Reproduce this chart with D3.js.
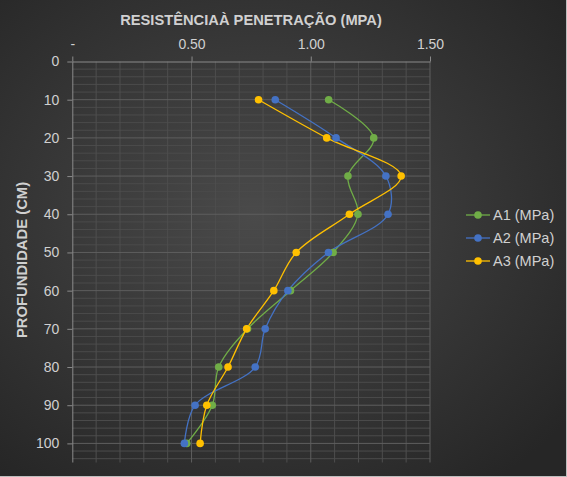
<!DOCTYPE html>
<html>
<head>
<meta charset="utf-8">
<script src="https://cdn.jsdelivr.net/npm/d3@7"></script>
<style>
  body { margin: 0; background: #2b2b2b; }
  svg { display: block; font-family: "Liberation Sans", Arial, sans-serif; }
</style>
</head>
<body>
<div id="chart"></div>
<script>
// profundidade (cm)
var depths = [10, 20, 30, 40, 50, 60, 70, 80, 90, 100];
var seriesNames = ["A1 (MPa)", "A2 (MPa)", "A3 (MPa)"];
var a1 = [1.075, 1.264, 1.156, 1.198, 1.094, 0.915, 0.735, 0.614, 0.587, 0.480];
var a2 = [0.851, 1.106, 1.315, 1.324, 1.074, 0.904, 0.809, 0.767, 0.515, 0.470];
var a3 = [0.781, 1.067, 1.379, 1.162, 0.939, 0.845, 0.731, 0.653, 0.564, 0.536];
var xTicks = [0, 0.5, 1.0, 1.5];
var yTicks = [0, 10, 20, 30, 40, 50, 60, 70, 80, 90, 100];
var colors = ["#70ad47", "#4472c4", "#ffc000"];

var W = 567, H = 477;
var pLeft = 72.3, pRight = 430, pTop = 61.5, pBottom = 462.5;

var svg = d3.select("#chart").append("svg").attr("width", W).attr("height", H);

var defs = svg.append("defs");
var grad = defs.append("radialGradient").attr("id", "bg")
  .attr("cx", "45%").attr("cy", "45%").attr("r", "70%");
grad.append("stop").attr("offset", "0%").attr("stop-color", "#4a4a4a");
grad.append("stop").attr("offset", "100%").attr("stop-color", "#262626");
svg.append("rect").attr("width", W).attr("height", H).attr("fill", "url(#bg)");

// borda
svg.append("line").attr("x1", 0).attr("x2", W).attr("y1", H - 0.5).attr("y2", H - 0.5).attr("stroke", "#bdbdbd");
svg.append("line").attr("x1", W - 0.5).attr("x2", W - 0.5).attr("y1", 0).attr("y2", H).attr("stroke", "#bdbdbd");

var x = d3.scaleLinear().domain([0, 1.5]).range([pLeft, pRight]);
var y = d3.scaleLinear().domain([0, 105]).range([pTop, pBottom]);

// grade menor
var g = svg.append("g");
g.selectAll("line.hmin").data(d3.range(2, 105, 2).filter(function(d){ return d % 10 != 0; }))
  .enter().append("line")
  .attr("x1", pLeft).attr("x2", pRight)
  .attr("y1", function(d){ return y(d); }).attr("y2", function(d){ return y(d); })
  .attr("stroke", "#4b4b4b").attr("stroke-width", 1);
g.selectAll("line.vmin").data(d3.range(1, 15).filter(function(d){ return d % 5 != 0; }))
  .enter().append("line")
  .attr("y1", pTop).attr("y2", pBottom)
  .attr("x1", function(d){ return x(d / 10); }).attr("x2", function(d){ return x(d / 10); })
  .attr("stroke", "#4e4e4e").attr("stroke-width", 1);
// grade maior
g.selectAll("line.hmaj").data(yTicks.slice(1))
  .enter().append("line")
  .attr("x1", pLeft).attr("x2", pRight)
  .attr("y1", function(d){ return y(d); }).attr("y2", function(d){ return y(d); })
  .attr("stroke", "#5e5e5e").attr("stroke-width", 1);
g.selectAll("line.vmaj").data(xTicks.slice(1))
  .enter().append("line")
  .attr("y1", pTop).attr("y2", pBottom)
  .attr("x1", function(d){ return x(d); }).attr("x2", function(d){ return x(d); })
  .attr("stroke", "#5e5e5e").attr("stroke-width", 1);

// eixos
var xAxis = d3.axisTop(x).tickValues(xTicks).tickSizeInner(5).tickSizeOuter(0).tickPadding(8)
  .tickFormat(function(d){ return d == 0 ? "-" : d.toFixed(2); });
var gx = svg.append("g").attr("transform", "translate(0," + pTop + ")").call(xAxis);
var yAxis = d3.axisLeft(y).tickValues(yTicks).tickSizeInner(5).tickSizeOuter(0).tickPadding(8);
var gy = svg.append("g").attr("transform", "translate(" + pLeft + ",0)").call(yAxis);
[gx, gy].forEach(function(a){
  a.select(".domain").attr("stroke", "#8a8a8a");
  a.selectAll(".tick line").attr("stroke", "#8a8a8a");
  a.selectAll(".tick text").attr("fill", "#d0d0d0").style("font-size", "14px").attr("font-family", null);
});
gy.select(".domain").attr("d", "M0.5," + pTop + "V" + pBottom);

// títulos
svg.append("text").attr("x", 251).attr("y", 25).attr("text-anchor", "middle")
  .attr("fill", "#d0d0d0").style("font-size", "14.7px").style("font-weight", "bold")
  .text("RESISTÊNCIAÀ PENETRAÇÃO (MPA)");
svg.append("text").attr("transform", "translate(27,260) rotate(-90)").attr("text-anchor", "middle")
  .attr("fill", "#d0d0d0").style("font-size", "14.8px").style("font-weight", "bold")
  .text("PROFUNDIDADE (CM)");

// séries
var series = [a1, a2, a3].map(function(vals, i){
  return { name: seriesNames[i], color: colors[i], pts: vals.map(function(v, k){ return [v, depths[k]]; }) };
});
var line = d3.line().x(function(d){ return x(d[0]); }).y(function(d){ return y(d[1]); })
  .curve(d3.curveCatmullRom.alpha(0.5));
series.forEach(function(s){
  svg.append("path").attr("d", line(s.pts)).attr("fill", "none")
    .attr("stroke", s.color).attr("stroke-width", 1.3);
});
series.forEach(function(s){
  svg.append("g").selectAll("circle").data(s.pts).enter().append("circle")
    .attr("cx", function(d){ return x(d[0]); }).attr("cy", function(d){ return y(d[1]); })
    .attr("r", 3.8).attr("fill", s.color);
});

// legenda
var lg = svg.append("g").selectAll("g").data(series).enter().append("g")
  .attr("transform", function(d, i){ return "translate(466," + (215 + i * 23) + ")"; });
lg.append("line").attr("x1", 0).attr("x2", 24).attr("stroke", function(d){ return d.color; }).attr("stroke-width", 1.3);
lg.append("circle").attr("cx", 12).attr("r", 3.8).attr("fill", function(d){ return d.color; });
lg.append("text").attr("x", 27).attr("dy", "0.35em").attr("fill", "#d0d0d0")
  .style("font-size", "14.5px").text(function(d){ return d.name; });
</script>
</body>
</html>
